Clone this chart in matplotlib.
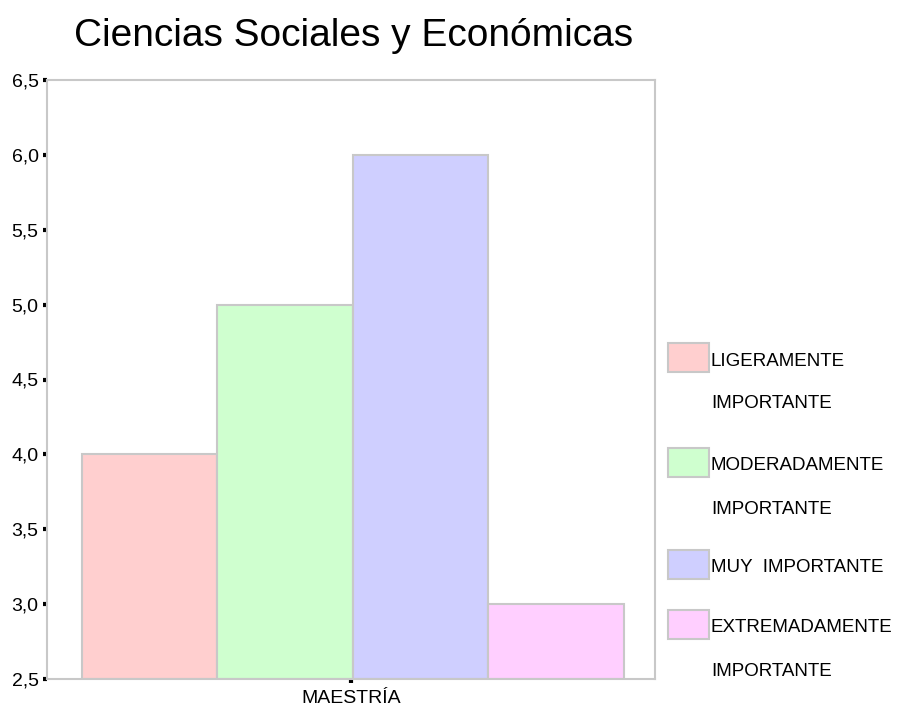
import matplotlib
matplotlib.use("Agg")
import matplotlib.pyplot as plt
from matplotlib.patches import Rectangle
from matplotlib.ticker import FuncFormatter

plt.rcParams['font.family'] = ['Liberation Sans', 'DejaVu Sans']

categories = ["MAESTRÍA"]
series = ["LIGERAMENTE\nIMPORTANTE", "MODERADAMENTE\nIMPORTANTE",
          "MUY  IMPORTANTE", "EXTREMADAMENTE\nIMPORTANTE"]
values = [4, 5, 6, 3]
colors = ["#FFCFCF", "#CFFFCF", "#CFCFFF", "#FFCFFF"]
edge = "#C8C8C8"

W, H = 907, 713
fig = plt.figure(figsize=(W / 100, H / 100), dpi=100)
ax = fig.add_axes([47 / W, 1 - 679 / H, 608 / W, 599 / H])

bw = 0.223
n = len(series)
for i, (v, c) in enumerate(zip(values, colors)):
    off = (i - (n - 1) / 2) * bw + 0.003
    ax.bar(0 + off, v - 2.5, bottom=2.5, width=bw, color=c,
           edgecolor=edge, linewidth=1.5, zorder=2)

ax.set_xlim(-0.5, 0.5)
ax.set_ylim(2.5, 6.5)
ax.set_yticks([2.5, 3.0, 3.5, 4.0, 4.5, 5.0, 5.5, 6.0, 6.5])
ax.yaxis.set_major_formatter(FuncFormatter(lambda v, p: f"{v:.1f}".replace(".", ",")))
ax.set_xticks([0])
ax.set_xticklabels(categories)

for s in ax.spines.values():
    s.set_color(edge)
    s.set_linewidth(1.5)
ax.tick_params(axis="both", direction="out", length=3, width=3,
               color="black", labelsize=14, pad=3)
ax.tick_params(axis="x", pad=5)

fig.text(0.5 * (47 + 655) / W + 3 / W, 1 - 36 / H, "Ciencias Sociales y Económicas",
         ha="center", va="center", fontsize=28)

# legend
box_y = [343, 448, 550, 610]
for lbl, c, y in zip(series, colors, box_y):
    fig.patches.append(Rectangle((668 / W, 1 - (y + 29) / H), 41 / W, 29 / H,
                                 transform=fig.transFigure, facecolor=c,
                                 edgecolor=edge, linewidth=1.5))
    lines = lbl.split("\n")
    for k, t in enumerate(lines):
        fig.text(711 / W, 1 - (y + 18 + k * 43) / H, t, ha="left",
                 va="center", fontsize=13.5)

fig.savefig("out.png", dpi=100)
